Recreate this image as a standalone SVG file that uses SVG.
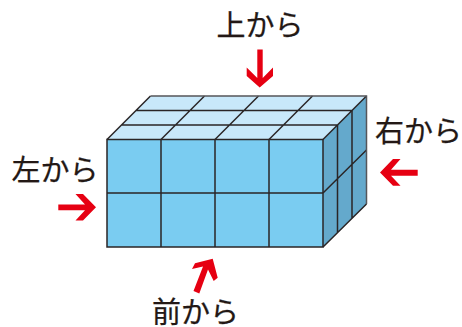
<svg xmlns="http://www.w3.org/2000/svg" width="462" height="327" viewBox="0 0 462 327">
<style>
.lbl{font-family:"Noto Sans CJK JP","Noto Sans CJK SC",sans-serif;font-size:29px;fill:#231815;stroke:#231815;stroke-width:.25}
.arrow{fill:#e60012}
.grid{fill:none;stroke:#2a2526;stroke-width:1.5}
.edge{fill:none;stroke:#55565a;stroke-width:1.5}
</style>
<rect width="462" height="327" fill="#fff"/>
<g id="block">
<polygon points="107,139.5 150.5,96 366.5,96 323,139.5" fill="#c8e8fa"/>
<polygon points="323,139.5 366.5,96 366.5,204 323,247" fill="#64a9cc"/>
<rect x="107" y="139.5" width="216" height="107.5" fill="#7accf1"/>
<path class="grid" d="M107,139.5H323V247H107ZM161,139.5V247M215,139.5V247M269,139.5V247M107,193H323"/>
<path class="grid" d="M107,139.5L150.5,96M161,139.5L204.5,96M215,139.5L258.5,96M269,139.5L312.5,96M323,139.5L366.5,96M121.5,125H337.5M136,110.5H352"/>
<path class="grid" d="M323,247L366.5,204M323,193L366.5,150M337.5,125V232.5M352,110.5V218"/>
<path class="edge" d="M150.5,96H366.5V204"/>
</g>
<g id="top-view"><text class="lbl" x="216.5" y="36">上から</text>
<polygon class="arrow" points="257.3,49.5 262.7,49.5 262.7,78 273,67.5 273,76 259.7,87.5 246.7,76 246.7,67.5 257.3,78"/></g>
<g id="left-view"><text class="lbl" x="11.5" y="181">左から</text>
<polygon class="arrow" points="58.3,204.5 85,204.5 75.5,194 83,194 96,207.3 83,220.5 75.5,220.5 85,210.3 58.3,210.3"/></g>
<g id="right-view"><text class="lbl" x="375" y="142">右から</text>
<polygon class="arrow" points="417.7,169.7 391,169.7 400.5,159 393,159 380,172.5 393,185.8 400.5,185.8 391,175.7 417.7,175.7"/></g>
<g id="front-view"><text class="lbl" x="152" y="323">前から</text>
<polygon class="arrow" points="212.7,258.7 217.7,277.7 213.7,281 208,269.5 199.3,293.5 193.5,291 203,266.5 192,269 195,263.3"/></g>
</svg>
